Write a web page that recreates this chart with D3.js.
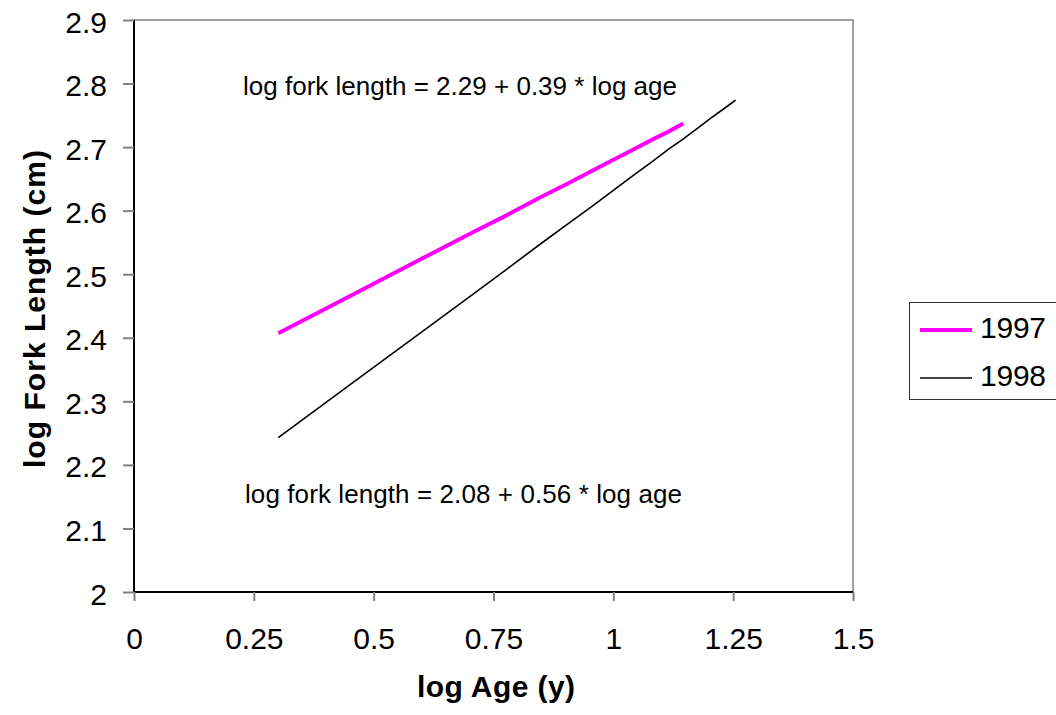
<!DOCTYPE html>
<html><head><meta charset="utf-8">
<script src="https://cdn.jsdelivr.net/npm/d3@7"></script>
<style>body{margin:0;background:#fff}svg{display:block}</style>
</head><body>
<svg id="c" width="1056" height="715"></svg>
<script>
const xTicks = [0, 0.25, 0.5, 0.75, 1, 1.25, 1.5];
const yTicks = [2, 2.1, 2.2, 2.3, 2.4, 2.5, 2.6, 2.7, 2.8, 2.9];
const x1997 = [0.301, 0.477, 0.602, 0.699, 0.778, 0.845, 0.903, 0.954, 1.000, 1.041, 1.079, 1.114, 1.146];
const y1997 = [2.407, 2.476, 2.525, 2.563, 2.593, 2.620, 2.642, 2.662, 2.680, 2.696, 2.711, 2.724, 2.737];
const x1998 = [0.301, 0.477, 0.602, 0.699, 0.778, 0.845, 0.903, 0.954, 1.000, 1.041, 1.079, 1.114, 1.146, 1.176, 1.204, 1.230, 1.255];
const y1998 = [2.243, 2.341, 2.410, 2.464, 2.508, 2.546, 2.578, 2.606, 2.632, 2.655, 2.676, 2.696, 2.713, 2.730, 2.746, 2.760, 2.774];
const seriesNames = ["1997", "1998"];
const eq1997 = "log fork length = 2.29 + 0.39 * log age";
const eq1998 = "log fork length = 2.08 + 0.56 * log age";

const svg = d3.select("#c");
const L = 134, R = 853, T = 20, B = 592;
const x = d3.scaleLinear().domain([0, 1.5]).range([L, R]);
const y = d3.scaleLinear().domain([2, 2.9]).range([B, T]);
const font = "Arial, 'Liberation Sans', sans-serif";

// plot border (gray)
svg.append("rect").attr("x", L).attr("y", T).attr("width", R - L).attr("height", B - T)
  .attr("fill", "none").attr("stroke", "#808080").attr("stroke-width", 1.5);

// axes
const xa = svg.append("g").attr("transform", `translate(0,${B})`)
  .call(d3.axisBottom(x).tickValues(xTicks).tickSize(9).tickSizeOuter(0).tickFormat(d => String(d)));
const ya = svg.append("g").attr("transform", `translate(${L},0)`)
  .call(d3.axisLeft(y).tickValues(yTicks).tickSize(11).tickSizeOuter(0).tickFormat(d => d === 2 ? "2" : d3.format(".1f")(d)));
[xa, ya].forEach(g => {
  g.select(".domain").attr("stroke", "#000").attr("stroke-width", 2);
  g.selectAll(".tick line").attr("stroke", "#808080").attr("stroke-width", 2);
  g.selectAll(".tick text").attr("font-family", font).attr("font-size", 30).attr("fill", "#000");
});
ya.select(".domain").attr("d", `M0,${B}V${T}`);
xa.select(".domain").attr("d", `M${L},0H${R}`);
xa.selectAll(".tick text").attr("dy", "0").attr("y", 57);
ya.selectAll(".tick text").attr("x", -27).attr("dy", "12");

// lines
const line = d3.line().x(d => x(d[0])).y(d => y(d[1]));
svg.append("path").datum(d3.zip(x1998, y1998)).attr("d", line)
  .attr("fill", "none").attr("stroke", "#000").attr("stroke-width", 1.6);
svg.append("path").datum(d3.zip(x1997, y1997)).attr("d", line)
  .attr("fill", "none").attr("stroke", "#ff00ff").attr("stroke-width", 4);

// annotations
svg.append("text").attr("x", 243).attr("y", 95)
  .attr("font-family", font).attr("font-size", 26).attr("textLength", 434).attr("lengthAdjust", "spacing").text(eq1997);
svg.append("text").attr("x", 245).attr("y", 503)
  .attr("font-family", font).attr("font-size", 26).attr("textLength", 437).attr("lengthAdjust", "spacing").text(eq1998);

// axis titles
svg.append("text").attr("x", 417).attr("y", 697)
  .attr("font-family", font).attr("font-size", 30).attr("font-weight", "bold")
  .attr("textLength", 158).attr("lengthAdjust", "spacing").text("log Age (y)");
svg.append("text").attr("transform", "translate(45,468) rotate(-90)")
  .attr("font-family", font).attr("font-size", 30).attr("font-weight", "bold")
  .attr("textLength", 318).attr("lengthAdjust", "spacing").text("log Fork Length (cm)");

// legend
const lg = svg.append("g");
lg.append("rect").attr("x", 909.5).attr("y", 302.5).attr("width", 160).attr("height", 97)
  .attr("fill", "#fff").attr("stroke", "#333").attr("stroke-width", 1);
const legColors = ["#ff00ff", "#000"], legW = [4, 1.6], legY = [330, 378];
seriesNames.forEach((s, i) => {
  lg.append("line").attr("x1", 920).attr("x2", 972).attr("y1", legY[i]).attr("y2", legY[i])
    .attr("stroke", legColors[i]).attr("stroke-width", legW[i]);
  lg.append("text").attr("x", 980).attr("y", legY[i] + 8).attr("font-family", font)
    .attr("font-size", 30).attr("textLength", 66).attr("lengthAdjust", "spacing").text(s);
});
</script>
</body></html>
